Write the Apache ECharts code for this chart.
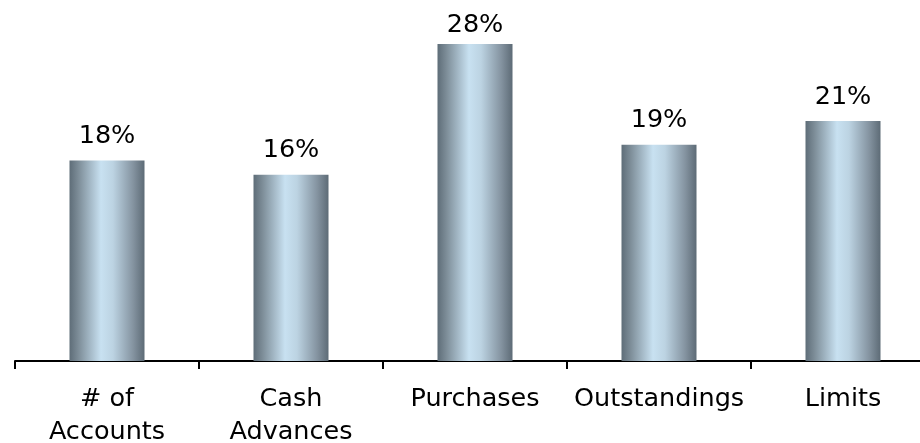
<!DOCTYPE html>
<html>
<head>
<meta charset="utf-8">
<script src="https://cdn.jsdelivr.net/npm/echarts@6/dist/echarts.min.js"></script>
<style>html,body{margin:0;padding:0;background:#fff;}#c{width:920px;height:443px;}</style>
</head>
<body>
<div id="c"></div>
<script>
const categories = ['# of\nAccounts', 'Cash\nAdvances', 'Purchases', 'Outstandings', 'Limits'];
const values = [17.7, 16.45, 28.0, 19.1, 21.2];

const chart = echarts.init(document.getElementById('c'));
const font = 'DejaVu Sans, Verdana, sans-serif';
const maxVal = Math.max(...values);
chart.setOption({
  animation: false,
  grid: { left: 15, width: 920, top: 44, height: 317, containLabel: false, outerBoundsMode: 'none' },
  xAxis: {
    type: 'category',
    data: categories,
    axisLine: { lineStyle: { color: '#000', width: 2 } },
    axisTick: { show: true, length: 8, lineStyle: { color: '#000', width: 2 } },
    axisLabel: { color: '#000', fontSize: 25.5, fontFamily: font, margin: 22, lineHeight: 33, interval: 0 }
  },
  yAxis: {
    type: 'value', min: 0, max: 28, show: false, splitLine: { show: false }
  },
  series: [{
    type: 'bar',
    data: values.map(v => v === maxVal ? { value: v, label: { distance: 6 } } : v),
    barWidth: 75,
    itemStyle: {
      color: new echarts.graphic.LinearGradient(0, 0, 1, 0, [
        { offset: 0, color: '#5e6d78' },
        { offset: 0.12, color: '#7d8d98' },
        { offset: 0.42, color: '#c8e1f1' },
        { offset: 0.58, color: '#bcd3e2' },
        { offset: 0.85, color: '#8493a0' },
        { offset: 1, color: '#5d6b76' }
      ])
    },
    label: {
      show: true, position: 'top', distance: 11, color: '#000', fontSize: 25.5, fontFamily: font,
      formatter: p => Math.round(p.value) + '%'
    }
  }]
});
</script>
</body>
</html>
